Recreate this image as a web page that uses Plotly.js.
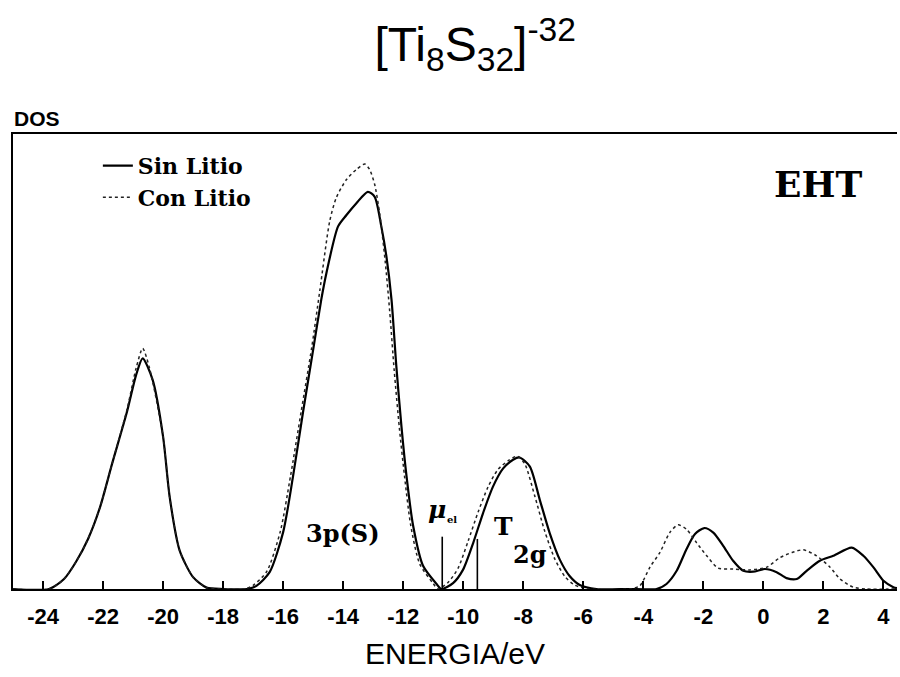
<!DOCTYPE html>
<html>
<head>
<meta charset="utf-8">
<script src="https://cdn.plot.ly/plotly-3.0.1.min.js"></script>
<style>html,body{margin:0;padding:0;background:#fff;}</style>
</head>
<body>
<div id="chart" style="width:900px;height:677px;"></div>
<script>
// Energy (eV) and DOS (arbitrary units)
const sinX = [-25, -23.8, -23.3, -22.9, -22.5, -22.1, -21.7, -21.2, -20.9, -20.68, -20.35, -20.0, -19.78, -19.45, -19.0, -18.55, -18.0,
  -17.2, -16.89, -16.45, -16.0, -15.67, -15.34, -15.0, -14.73, -14.56, -14.17, -13.89, -13.56, -13.18, -12.95, -12.73, -12.56, -12.39, -12.23, -12.06, -11.89, -11.67, -11.34, -10.89, -10.73,
  -10.34, -10.01, -9.67, -9.34, -9.01, -8.67, -8.34, -8.12, -7.78, -7.45, -7.12, -6.78, -6.45, -6.12, -5.56, -4.5,
  -3.56, -3.23, -2.89, -2.56, -2.28, -1.97, -1.67, -1.34, -1.01, -0.67, -0.34, 0.05, 0.44, 0.77, 1.11, 1.44, 1.88, 2.33, 2.94, 3.33, 3.66, 4.0, 4.33, 4.45];
const sinY = [0, 0, 2.2, 6.0, 11.0, 18.0, 27.5, 39.0, 47.0, 50.7, 46.0, 33.5, 20.2, 8.5, 2.6, 0.3, 0,
  0, 0.7, 3.7, 12.5, 24.8, 38.8, 52.6, 63.6, 69.4, 79.7, 82.2, 84.8, 87.3, 86.2, 79.7, 73.1, 63.6, 49.0, 35.8, 24.8, 13.9, 5.1, 1.1, 0,
  1.3, 4.2, 10.1, 16.7, 22.5, 26.5, 28.4, 28.9, 26.9, 19.6, 12.3, 6.4, 2.8, 0.9, 0, 0,
  0, 1.1, 4.0, 8.8, 12.1, 13.4, 12.4, 9.5, 6.2, 4.0, 3.8, 4.4, 3.7, 2.4, 2.2, 4.0, 6.2, 7.3, 9.1, 7.3, 4.8, 1.8, 0.4, 0.2];

const conX = [-25, -23.8, -23.3, -22.9, -22.5, -22.1, -21.7, -21.2, -20.9, -20.68, -20.45, -20.0, -19.78, -19.45, -19.0, -18.55, -18.0,
  -17.3, -17.0, -16.55, -16.1, -15.75, -15.4, -15.05, -14.78, -14.45, -14.23, -13.89, -13.56, -13.28, -13.12, -12.95, -12.78, -12.6, -12.45, -12.3, -12.13, -11.96, -11.75, -11.45, -11.0, -10.85,
  -10.5, -10.17, -9.84, -9.5, -9.17, -8.84, -8.5, -8.2, -7.95, -7.62, -7.29, -6.95, -6.62, -6.3, -5.8,
  -4.45, -4.12, -3.78, -3.45, -3.12, -2.84, -2.56, -2.23, -1.89, -1.51, -1.01, -0.45, 0.11, 0.55, 0.94, 1.33, 1.77, 2.22, 2.55, 2.99, 3.44, 4.45];
const conY = [0, 0, 2.2, 6.0, 11.0, 18.0, 27.5, 39.5, 48.5, 52.9, 48.5, 33.5, 20.2, 8.5, 2.6, 0.3, 0,
  0, 0.8, 3.8, 12.5, 25.0, 39.0, 53.0, 65.5, 80.8, 86.0, 90.0, 92.2, 93.4, 92.2, 88.9, 82.3, 72.0, 61.0, 48.0, 35.5, 25.0, 14.0, 5.5, 1.2, 0,
  1.5, 4.6, 10.5, 17.0, 22.5, 26.3, 28.2, 29.2, 27.5, 20.5, 12.8, 6.6, 2.8, 0.9, 0,
  0, 0.7, 4.8, 8.0, 12.4, 14.1, 13.1, 10.2, 7.3, 4.6, 4.4, 4.2, 4.8, 6.9, 8.0, 8.6, 7.3, 4.8, 2.2, 0.4, 0, 0];

// vertical markers: chemical potential (mu_el) and second marker
const markX = [-10.7, -9.53];
const markH = [11.5, 11.0];

const tickVals = [-24, -22, -20, -18, -16, -14, -12, -10, -8, -6, -4, -2, 0, 2, 4];
const tickText = ['-24', '-22', '-20', '-18', '-16', '-14', '-12', '-10', '-8', '-6', '-4', '-2', '0', '2', '4'];

const serif = 'DejaVu Serif';
const sans = 'Liberation Sans, Arial, sans-serif';

const mx = [], my = [];
markX.forEach((x, i) => { mx.push(x, x, null); my.push(0, markH[i], null); });

const traces = [
  {x: sinX, y: sinY, type: 'scatter', mode: 'lines', name: 'Sin Litio',
   line: {color: '#000', width: 2.2, shape: 'spline', smoothing: 0.7}},
  {x: conX, y: conY, type: 'scatter', mode: 'lines', name: 'Con Litio',
   line: {color: '#222', width: 1.5, dash: 'dot', shape: 'spline', smoothing: 0.7}},
  {x: mx, y: my, type: 'scatter', mode: 'lines', showlegend: false, hoverinfo: 'skip',
   line: {color: '#000', width: 1.6}}
];

const layout = {
  width: 900, height: 677,
  margin: {l: 13, r: 3, t: 134, b: 88},
  paper_bgcolor: '#fff', plot_bgcolor: '#fff',
  title: {text: '[Ti<sub>8</sub>S<sub>32</sub>]<sup>-32</sup>', font: {family: sans, size: 48, color: '#000'},
          x: 0.528, xref: 'container', xanchor: 'center', y: 0.935, yref: 'container', yanchor: 'middle'},
  xaxis: {range: [-25, 4.45], tickvals: tickVals, ticktext: tickText, ticks: 'inside', ticklen: 8, tickwidth: 1.5,
          tickcolor: '#000', showline: true, linecolor: '#000', linewidth: 2, mirror: true, showgrid: false, zeroline: false,
          ticklabelstandoff: 7,
          tickfont: {family: sans, size: 22, color: '#000', weight: 'bold'},
          title: {text: 'ENERGIA/eV', font: {family: sans, size: 30, color: '#000'}, standoff: 15}},
  yaxis: {range: [0, 100], showticklabels: false, ticks: '', showline: true, linecolor: '#000', linewidth: 2,
          showgrid: false, zeroline: false},
  showlegend: true,
  legend: {x: 0.096, xanchor: 'left', y: 0.976, yanchor: 'top', bgcolor: 'rgba(0,0,0,0)',
           font: {family: serif, size: 22, color: '#000', weight: 'bold'}, tracegroupgap: 0},
  annotations: [
    {text: 'DOS', xref: 'paper', yref: 'paper', x: -0.001, y: 1.035, xanchor: 'left', yanchor: 'middle', showarrow: false,
     font: {family: sans, size: 21, color: '#000', weight: 'bold'}},
    {text: 'EHT', xref: 'paper', yref: 'paper', x: 0.911, y: 0.89, xanchor: 'center', yanchor: 'middle', showarrow: false,
     font: {family: serif, size: 36, color: '#000', weight: 'bold'}},
    {text: '3p(S)', xref: 'x', yref: 'y', x: -14.0, y: 12.3, xanchor: 'center', yanchor: 'middle', showarrow: false,
     font: {family: serif, size: 24, color: '#000', weight: 'bold'}},
    {text: '<i>μ</i>', xref: 'x', yref: 'y', x: -11.25, y: 17.5, xanchor: 'left', yanchor: 'middle', showarrow: false,
     font: {family: serif, size: 25, color: '#000', weight: 'bold'}},
    {text: 'el', xref: 'x', yref: 'y', x: -10.6, y: 15.2, xanchor: 'left', yanchor: 'middle', showarrow: false,
     font: {family: serif, size: 10, color: '#000', weight: 'bold'}},
    {text: 'T', xref: 'x', yref: 'y', x: -9.05, y: 13.8, xanchor: 'left', yanchor: 'middle', showarrow: false,
     font: {family: serif, size: 25, color: '#000', weight: 'bold'}},
    {text: '2g', xref: 'x', yref: 'y', x: -8.4, y: 7.5, xanchor: 'left', yanchor: 'middle', showarrow: false,
     font: {family: serif, size: 24, color: '#000', weight: 'bold'}}
  ]
};

Plotly.newPlot('chart', traces, layout, {displayModeBar: false});
</script>
</body>
</html>
